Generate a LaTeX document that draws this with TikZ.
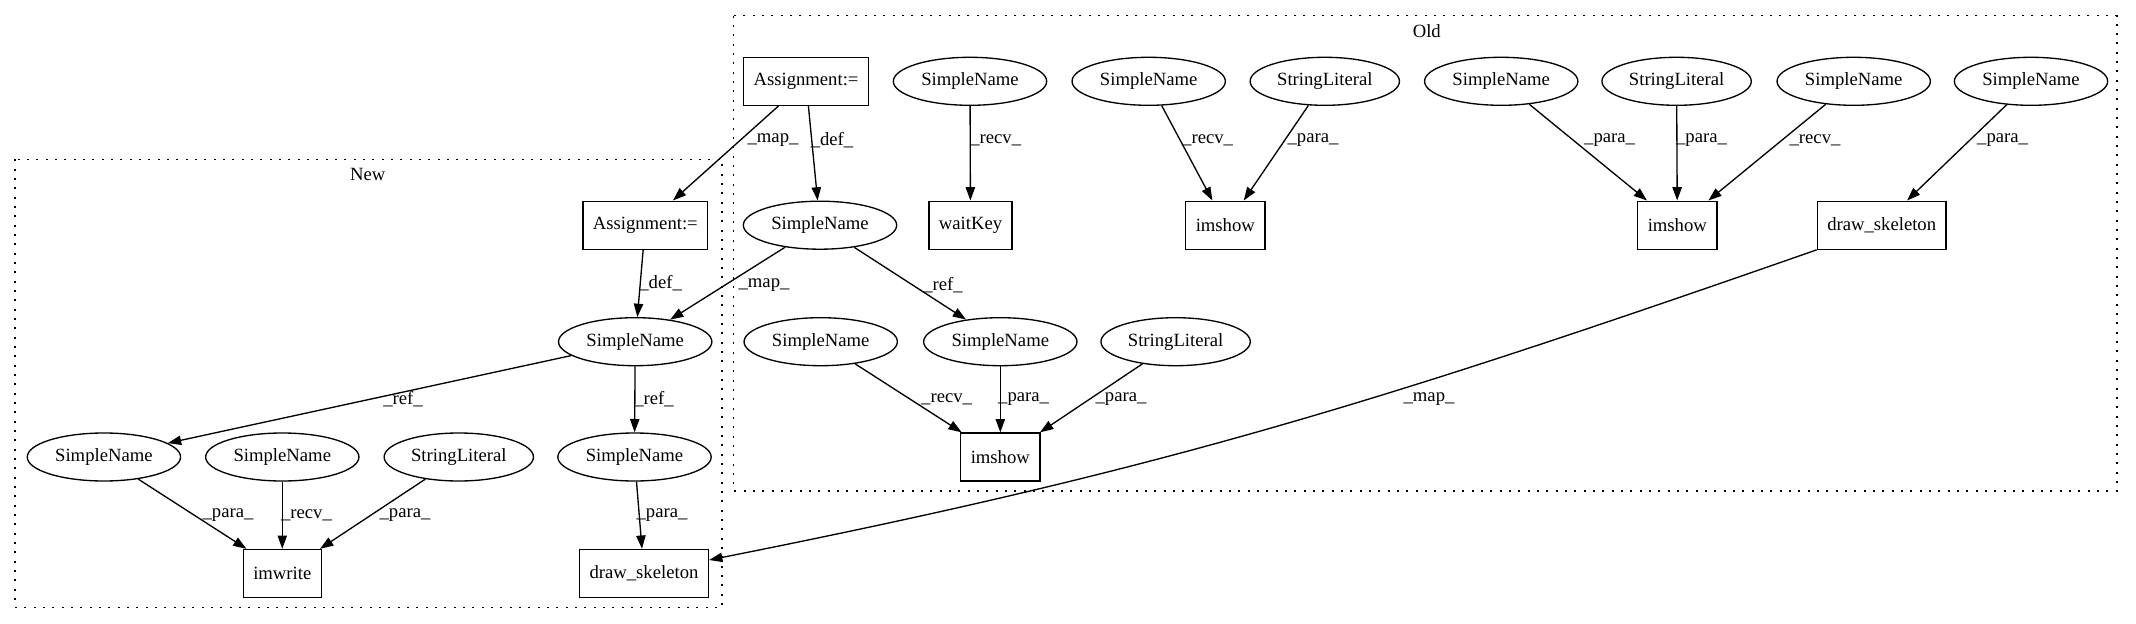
\documentclass[tikz,border=0pt]{standalone}
\usepackage{fontspec}
\setmainfont{Liberation Serif}
\usetikzlibrary{shapes.geometric,arrows.meta,calc}
\begin{document}
\begin{tikzpicture}[x=0.75pt,y=-0.75pt,
  every node/.style={font=\fontsize{14}{16}\selectfont},
  sn/.style={draw, line width=1pt, ellipse, inner sep=0pt, minimum width=115pt, minimum height=36pt},
  sl/.style={sn, minimum width=112pt},
  box/.style={draw, line width=1pt, rectangle, inner xsep=7.5pt, inner ysep=0pt, minimum width=54pt, minimum height=36pt},
  edge/.style={draw, line width=1pt, -{Triangle[length=10pt,width=7pt]}},
  lbl/.style={inner sep=0pt},
  cluster/.style={draw, line width=1pt, dash pattern=on 1.5pt off 5.5pt}
]
\useasboundingbox (0,0) rectangle (2136,624);
% clusters
\draw[cluster] (733.6,15.7) rectangle (2116.9,491);
\node[lbl] (oldlabel) at (1426.8,30.7) {Old};
\draw[cluster] (15,159.3) rectangle (722,607.3);
\node[lbl] (newlabel) at (367.8,174) {New};

% Old nodes
\node[box] (AO) at (806,81.3) {Assignment:=};
\node[sn] (SN1) at (970,81.3) {SimpleName};
\node[sn] (SN2) at (1148.7,81.3) {SimpleName};
\node[sl] (SL1) at (1324.8,81.3) {StringLiteral};
\node[sn] (SN3) at (1501.2,81.3) {SimpleName};
\node[sl] (SL2) at (1676.6,81.3) {StringLiteral};
\node[sn] (SN4) at (1853.7,81.3) {SimpleName};
\node[sn] (SN5) at (2031,81.3) {SimpleName};
\node[sn] (SNom) at (820,225.2) {SimpleName};
\node[box] (WK) at (970.5,225.2) {waitKey};
\node[box] (IM1) at (1225.3,225.2) {imshow};
\node[box] (IM2) at (1677.3,225.2) {imshow};
\node[box] (DSO) at (1881.7,225.2) {draw\_skeleton};
\node[sn] (SNoL) at (820.7,341.7) {SimpleName};
\node[sn] (SNoR) at (1000.3,341.7) {SimpleName};
\node[sl] (SLo) at (1175.6,341.7) {StringLiteral};
\node[box] (IM3) at (1000.3,457) {imshow};

% New nodes
\node[box] (AN) at (645.3,225.2) {Assignment:=};
\node[sn] (SNnm) at (635.2,341.7) {SimpleName};
\node[sn] (SNnL) at (103.9,457) {SimpleName};
\node[sn] (SNn2) at (282.3,457) {SimpleName};
\node[sl] (SLn) at (458.8,457) {StringLiteral};
\node[sn] (SNnR) at (634.5,457) {SimpleName};
\node[box] (IW) at (282.3,573.5) {imwrite};
\node[box] (DSN) at (644,573.5) {draw\_skeleton};

% Old edges
\draw[edge] (AO) -- ($(AN.north)+(27.6,0)$);
\node[lbl] (l1) at (773,140) {\_map\_};
\draw[edge] (AO) -- (SNom);
\node[lbl] (l2) at (832,140) {\_def\_};
\draw[edge] (SN1) -- (WK);
\node[lbl] (l3) at (995.7,140) {\_recv\_};
\draw[edge] (SN2) -- ($(IM1.north)+(-12.9,0)$);
\node[lbl] (l4) at (1207.6,140) {\_recv\_};
\draw[edge] (SL1) -- ($(IM1.north)+(18.4,0)$);
\node[lbl] (l5) at (1313,140) {\_para\_};
\draw[edge] (SN3) -- ($(IM2.north)+(-30.3,0)$);
\node[lbl] (l6) at (1609.6,140) {\_para\_};
\draw[edge] (SL2) -- (IM2);
\node[lbl] (l7) at (1701.5,140) {\_para\_};
\draw[edge] (SN4) -- ($(IM2.north)+(31,0)$);
\node[lbl] (l8) at (1815,140) {\_recv\_};
\draw[edge] (SN5) -- ($(DSO.north)+(25.3,0)$);
\node[lbl] (l9) at (2002.6,140) {\_para\_};
\draw[edge] (SNom) -- (SNnm);
\node[lbl] (l10) at (764,285) {\_map\_};
\draw[edge] (SNom) -- (SNoR);
\node[lbl] (l11) at (943,285) {\_ref\_};
\draw[edge] (AN) -- (SNnm);
\node[lbl] (l12) at (660.6,283.3) {\_def\_};
\draw[edge] (SNoL) -- ($(IM3.north)+(-38.6,0)$);
\node[lbl] (l13) at (946.6,399.3) {\_recv\_};
\draw[edge] (SNoR) -- (IM3);
\node[lbl] (l14) at (1023.6,399.3) {\_para\_};
\draw[edge] (SLo) -- ($(IM3.north)+(39.7,0)$);
\node[lbl] (l15) at (1121,399.3) {\_para\_};
\draw[edge] (DSO.south west) .. controls (1371.7,405.3) and (1158.8,470.6) .. ($(DSN.east)+(0,-13.5)$);
\node[lbl] (l16) at (1429,399.3) {\_map\_};

% New edges
\draw[edge] (SNnm) -- (SNnL);
\node[lbl] (l17) at (403,399.3) {\_ref\_};
\draw[edge] (SNnm) -- (SNnR);
\node[lbl] (l18) at (654,399.3) {\_ref\_};
\draw[edge] (SNnL) -- ($(IW.north)+(-35.8,0)$);
\node[lbl] (l19) at (228,515.3) {\_para\_};
\draw[edge] (SNn2) -- (IW);
\node[lbl] (l20) at (306.5,515.3) {\_recv\_};
\draw[edge] (SLn) -- ($(IW.north)+(37.7,0)$);
\node[lbl] (l21) at (405,515.3) {\_para\_};
\draw[edge] (SNnR) -- (DSN);
\node[lbl] (l22) at (662,515.3) {\_para\_};
\end{tikzpicture}
\end{document}
